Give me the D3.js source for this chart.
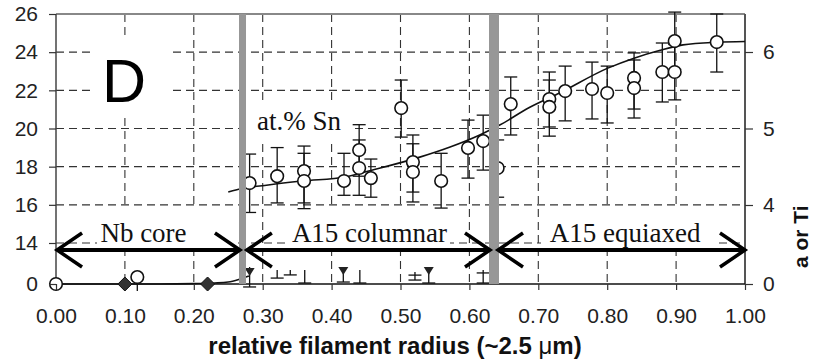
<!DOCTYPE html>
<html>
<head>
<meta charset="utf-8">
<script src="https://cdn.jsdelivr.net/npm/d3@7"></script>
<style>
  html, body { margin: 0; padding: 0; background: #fff; }
  svg { display: block; }
  .tick text { font-family: "Liberation Sans", Arial, sans-serif; font-size: 21px; fill: #222; }
</style>
</head>
<body>
<svg id="chart" width="814" height="361"></svg>
<script>
// ---------- data ----------
const xTicks = [0, 0.1, 0.2, 0.3, 0.4, 0.5, 0.6, 0.7, 0.8, 0.9, 1.0];
const leftTicks = [0, 14, 16, 18, 20, 22, 24, 26];
const rightTicks = [0, 4, 5, 6];

// at.% Sn (left axis)
const snR  = [0.281, 0.321, 0.360, 0.360, 0.418, 0.440, 0.440, 0.457, 0.501, 0.518, 0.518, 0.559, 0.598, 0.620, 0.641, 0.660, 0.716, 0.716, 0.739, 0.778, 0.800, 0.839, 0.839, 0.880, 0.898, 0.898, 0.959];
const snV  = [17.14, 17.50, 17.77, 17.25, 17.25, 18.87, 17.93, 17.40, 21.07, 18.24, 17.72, 17.25, 18.98, 19.34, 17.93, 21.28, 21.54, 21.13, 21.96, 22.07, 21.86, 22.65, 22.12, 22.96, 24.58, 22.96, 24.53];
const snHi = [18.66, 19.00, 19.08, 18.70, 18.70, 20.20, 19.40, 18.40, 22.54, 19.66, 19.20, 18.70, 20.44, 20.70, 19.40, 22.70, 22.96, 22.54, 23.27, 23.48, 23.27, 23.96, 23.59, 24.48, 26.10, 24.40, 26.00];
const snLo = [15.60, 16.10, 16.10, 15.80, 16.50, 17.50, 16.50, 16.40, 19.55, 16.67, 16.15, 15.83, 17.40, 17.82, 16.40, 19.66, 20.08, 19.60, 20.40, 20.50, 20.29, 21.02, 20.55, 21.39, 23.10, 21.50, 22.96];

// Sn fit curve
const snFitR = [0.25, 0.261, 0.308, 0.357, 0.42, 0.457, 0.528, 0.572, 0.615, 0.644, 0.687, 0.731, 0.80, 0.84, 0.877, 0.91, 0.96, 1.0];
const snFitV = [16.67, 16.78, 17.04, 17.25, 17.46, 17.80, 18.50, 19.03, 19.66, 20.18, 21.10, 21.86, 23.15, 23.70, 24.10, 24.38, 24.52, 24.56];

// at.% Ta or Ti (right axis)
const taCircR = [0.0, 0.118];
const taCircV = [0.0, 0.35];
const taCircLo = [0.0, -0.35];
const taDiamR = [0.10, 0.22];
const taDiamV = [0.0, 0.0];
const taR    = [0.281, 0.321, 0.340, 0.361, 0.417, 0.441, 0.521, 0.541, 0.620];
const taHi   = [0.86, 0.71, 0.71, 0.71, 0.66, 0.71, 0.61, 0.66, 0.71];
const taLo   = [-0.15, 0.30, 0.46, 0.05, 0.10, 0.05, 0.20, 0.05, 0.05];
const taMark = ["tri", "", "", "", "tri", "", "dash", "tri", "dash"];
const taMarkV= [0.61, 0, 0, 0, 0.66, 0, 0.45, 0.66, 0.56];
const taFitR = [0.0, 0.15, 0.20, 0.23, 0.25, 0.267, 0.28];
const taFitV = [0.0, 0.0, 0.02, 0.05, 0.10, 0.25, 0.40];

// region boundaries (grey bars) and labels
const boundaries = [0.2707, 0.6357];
const boundaryWidths = [7, 10];
const regionLabels = ["Nb core", "A15 columnar", "A15 equiaxed"];
const regionFrom = [0.0015, 0.277, 0.6415];
const regionTo   = [0.267, 0.6299, 1.0];
const regionLabelR = [0.127, 0.455, 0.826];

// ---------- layout ----------
const svg = d3.select("#chart");
const x  = d3.scaleLinear().domain([0, 1]).range([56, 745]);
const yL = d3.scaleLinear().domain([0, 14, 26]).range([284, 243, 14]);
const yR = d3.scaleLinear().domain([0, 4, 6]).range([284, 205, 52]);
const yTop = yL(26), yBot = yL(0);
const sans = '"Liberation Sans", Arial, sans-serif';
const serif = '"Liberation Serif", "Times New Roman", serif';

// gridlines
const grid = svg.append("g").attr("stroke", "#333").attr("stroke-width", 1.1).attr("stroke-dasharray", "8,5");
xTicks.filter(t => t > 0 && t < 1).forEach(t => {
  grid.append("line").attr("x1", x(t)).attr("x2", x(t)).attr("y1", yTop).attr("y2", yBot);
});
leftTicks.filter(t => t >= 14 && t < 26).forEach(t => {
  grid.append("line").attr("x1", x(0)).attr("x2", x(1)).attr("y1", yL(t)).attr("y2", yL(t));
});

// white boxes behind text annotations
const arrowY = yL(11.6);
const boxes = [
  [93, 35, 75, 80],      // D
  [250, 100, 100, 40],   // at.% Sn
  [97, arrowY - 44, 141, 46],
  [288, arrowY - 44, 162, 46],
  [541, arrowY - 44, 174, 46]
];
boxes.forEach(b => svg.append("rect").attr("x", b[0]).attr("y", b[1]).attr("width", b[2]).attr("height", b[3]).attr("fill", "#fff"));

// frame lines
svg.append("line").attr("x1", x(0)).attr("x2", x(1)).attr("y1", yTop).attr("y2", yTop).attr("stroke", "#888").attr("stroke-width", 2);
svg.append("line").attr("x1", x(0)).attr("x2", x(0)).attr("y1", yTop).attr("y2", yBot).attr("stroke", "#444").attr("stroke-width", 1.5);
svg.append("line").attr("x1", x(1)).attr("x2", x(1)).attr("y1", yTop).attr("y2", yBot).attr("stroke", "#555").attr("stroke-width", 2);
svg.append("line").attr("x1", x(0)).attr("x2", x(1)).attr("y1", yBot).attr("y2", yBot).attr("stroke", "#111").attr("stroke-width", 1.6);

// fit curves
const lineL = d3.line().x((d, i) => x(snFitR[i])).y(d => yL(d)).curve(d3.curveMonotoneX);
svg.append("path").attr("d", lineL(snFitV)).attr("fill", "none").attr("stroke", "#111").attr("stroke-width", 1.6);
const lineR = d3.line().x((d, i) => x(taFitR[i])).y(d => yR(d)).curve(d3.curveMonotoneX);
svg.append("path").attr("d", lineR(taFitV)).attr("fill", "none").attr("stroke", "#111").attr("stroke-width", 1.6);

// Sn error bars
const eb = svg.append("g").attr("stroke", "#111").attr("stroke-width", 1.3);
snR.forEach((r, i) => {
  const cx = x(r);
  eb.append("line").attr("x1", cx).attr("x2", cx).attr("y1", yL(snHi[i])).attr("y2", yL(snLo[i]));
  eb.append("line").attr("x1", cx - 6.5).attr("x2", cx + 6.5).attr("y1", yL(snHi[i])).attr("y2", yL(snHi[i]));
  eb.append("line").attr("x1", cx - 6.5).attr("x2", cx + 6.5).attr("y1", yL(snLo[i])).attr("y2", yL(snLo[i]));
});
// Ta error bars
taR.forEach((r, i) => {
  const cx = x(r);
  eb.append("line").attr("x1", cx).attr("x2", cx).attr("y1", yR(taHi[i])).attr("y2", yR(taLo[i]));
  eb.append("line").attr("x1", cx - 6.5).attr("x2", cx + 6.5).attr("y1", yR(taLo[i])).attr("y2", yR(taLo[i]));
  if (taMark[i] === "dash") {
    eb.append("line").attr("x1", cx - 6.5).attr("x2", cx + 6.5).attr("y1", yR(taMarkV[i])).attr("y2", yR(taMarkV[i]));
  }
});
taCircR.forEach((r, i) => {
  eb.append("line").attr("x1", x(r)).attr("x2", x(r)).attr("y1", yR(taCircV[i])).attr("y2", yR(taCircLo[i]));
});

// Sn circles
svg.append("g").selectAll("circle").data(snV).join("circle")
  .attr("cx", (d, i) => x(snR[i])).attr("cy", d => yL(d)).attr("r", 6.3)
  .attr("fill", "#fff").attr("stroke", "#111").attr("stroke-width", 1.6);
// Ta circles
svg.append("g").selectAll("circle").data(taCircV).join("circle")
  .attr("cx", (d, i) => x(taCircR[i])).attr("cy", d => yR(d)).attr("r", 6.3)
  .attr("fill", "#fff").attr("stroke", "#111").attr("stroke-width", 1.6);
// diamonds
svg.append("g").selectAll("path").data(taDiamV).join("path")
  .attr("transform", (d, i) => `translate(${x(taDiamR[i])},${yR(d)})`)
  .attr("d", "M0,-7L7,0L0,7L-7,0Z").attr("fill", "#333").attr("stroke", "#111").attr("stroke-width", 1);
// triangles
taR.forEach((r, i) => {
  if (taMark[i] === "tri") {
    svg.append("path").attr("transform", `translate(${x(r)},${yR(taMarkV[i])})`)
      .attr("d", "M-5,-4L5,-4L0,4Z").attr("fill", "#222");
  }
});

// grey boundary bars
boundaries.forEach((b, i) => {
  svg.append("rect").attr("x", x(b) - boundaryWidths[i] / 2).attr("y", yTop)
    .attr("width", boundaryWidths[i]).attr("height", yBot - yTop).attr("fill", "#979797");
});

// axes
const gL = svg.append("g").attr("transform", `translate(${x(0)},0)`)
  .call(d3.axisLeft(yL).tickValues(leftTicks).tickFormat(d3.format("d")).tickSize(7).tickSizeOuter(0).tickPadding(11));
const gB = svg.append("g").attr("transform", `translate(0,${yBot})`)
  .call(d3.axisBottom(x).tickValues(xTicks).tickFormat(d3.format(".2f")).tickSize(6).tickSizeOuter(0).tickPadding(18));
const gR = svg.append("g").attr("transform", `translate(${x(1)},0)`)
  .call(d3.axisRight(yR).tickValues(rightTicks).tickFormat(d3.format("d")).tickSize(8).tickSizeOuter(0).tickPadding(10));
[gL, gB, gR].forEach(g => {
  g.select(".domain").remove();
  g.selectAll(".tick line").attr("stroke", "#333").attr("stroke-width", 1.2);
});

// double-headed arrows
const ar = svg.append("g").attr("stroke", "#000").attr("fill", "none").attr("stroke-linecap", "butt");
regionLabels.forEach((lab, i) => {
  const x1 = x(regionFrom[i]), x2 = x(regionTo[i]);
  ar.append("line").attr("x1", x1).attr("x2", x2).attr("y1", arrowY).attr("y2", arrowY).attr("stroke-width", 4);
  ar.append("path").attr("d", `M${x1 + 25},${arrowY - 17}L${x1},${arrowY}L${x1 + 25},${arrowY + 17}`).attr("stroke-width", 3.5);
  ar.append("path").attr("d", `M${x2 - 25},${arrowY - 17}L${x2},${arrowY}L${x2 - 25},${arrowY + 17}`).attr("stroke-width", 3.5);
  svg.append("text").attr("x", x(regionLabelR[i])).attr("y", arrowY - 8)
    .attr("text-anchor", "middle").attr("font-family", serif).attr("font-size", 27).attr("fill", "#111").text(lab);
});

// annotations
svg.append("text").attr("x", 102).attr("y", 102).attr("font-family", sans).attr("font-size", 61).attr("fill", "#000").text("D");
svg.append("text").attr("x", 257).attr("y", 130).attr("font-family", serif).attr("font-size", 27).attr("fill", "#111").text("at.% Sn");

// axis titles
const xt = svg.append("text").attr("x", 395).attr("y", 354).attr("text-anchor", "middle")
  .attr("font-family", sans).attr("font-size", 24).attr("font-weight", "bold").attr("fill", "#111");
xt.append("tspan").text("relative filament radius (~2.5 ");
xt.append("tspan").attr("font-weight", "normal").text("\u03bc");
xt.append("tspan").text("m)");
svg.append("text").attr("transform", "translate(808,268) rotate(-90)").attr("text-anchor", "start")
  .attr("font-family", sans).attr("font-size", 21).attr("font-weight", "bold").attr("fill", "#111").text("a or Ti");
</script>
</body>
</html>
